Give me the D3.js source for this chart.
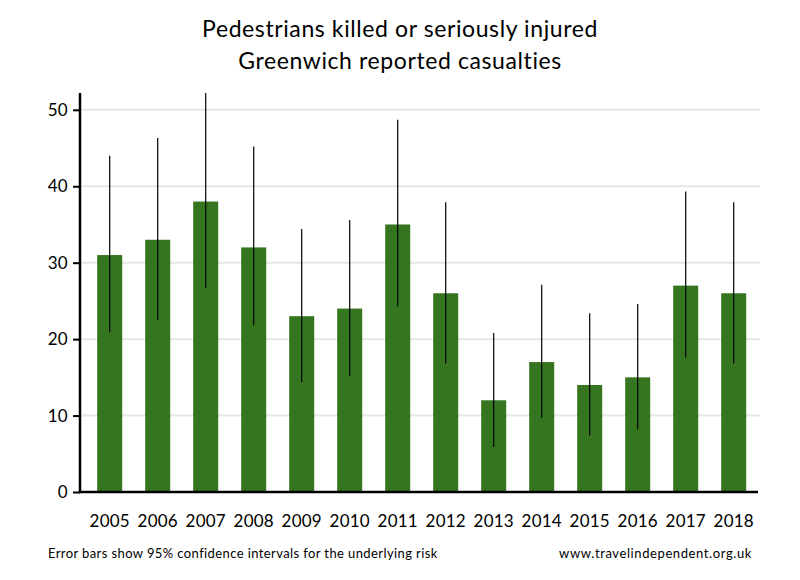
<!DOCTYPE html>
<html><head><meta charset="utf-8">
<script src="https://cdn.jsdelivr.net/npm/d3@7"></script>
<style>body{margin:0;background:#fff}svg{display:block}text{font-family:Lato,"Open Sans",sans-serif}</style>
</head><body>
<svg id="c" width="800" height="580"></svg>
<script>
const years = ["2005","2006","2007","2008","2009","2010","2011","2012","2013","2014","2015","2016","2017","2018"];
const casualties = [31,33,38,32,23,24,35,26,12,17,14,15,27,26];
const ciLow  = [20.9,22.5,26.7,21.8,14.4,15.2,24.3,16.8,5.9,9.7,7.4,8.2,17.6,16.8];
const ciHigh = [44.0,46.3,52.2,45.2,34.4,35.6,48.7,37.9,20.8,27.1,23.4,24.6,39.3,37.9];
const yTicks = [0,10,20,30,40,50];

const svg = d3.select("#c");
const x = d3.scaleBand().domain(years).range([85.7, 757.7]).padding(0);
const y = d3.scaleLinear().domain([0, 52.2]).range([492, 93]);
const barW = 25;

// grid
svg.append("g").selectAll("line").data(yTicks.filter(d=>d>0)).join("line")
  .attr("x1", 80).attr("x2", 760).attr("y1", d=>y(d)).attr("y2", d=>y(d))
  .attr("stroke", "#e6e6e6").attr("stroke-width", 2);

// bars
svg.append("g").selectAll("rect").data(years).join("rect")
  .attr("x", d=>x(d)+x.bandwidth()/2-barW/2).attr("width", barW)
  .attr("y", (d,i)=>y(casualties[i])).attr("height", (d,i)=>y(0)-y(casualties[i]))
  .attr("fill", "#367520");

// error bars
svg.append("g").selectAll("line").data(years).join("line")
  .attr("x1", d=>x(d)+x.bandwidth()/2).attr("x2", d=>x(d)+x.bandwidth()/2)
  .attr("y1", (d,i)=>y(ciLow[i])).attr("y2", (d,i)=>y(Math.min(ciHigh[i],52.2)))
  .attr("stroke", "#000").attr("stroke-width", 1.2);

// y axis
const ya = svg.append("g").attr("transform","translate(80,0)")
  .call(d3.axisLeft(y).tickValues(yTicks).tickSize(7).tickPadding(5).tickFormat(d3.format("d")));
ya.select(".domain").attr("stroke","#000").attr("stroke-width",2.5).attr("d","M0,"+y(0)+"V"+y(52.2));
ya.selectAll(".tick line").attr("stroke","#000").attr("stroke-width",2);
ya.selectAll(".tick text").attr("font-size",17).attr("fill","#000").attr("letter-spacing",0.3).attr("font-family","Lato,'Open Sans',sans-serif");

// x axis
const xa = svg.append("g").attr("transform","translate(0,"+y(0)+")")
  .call(d3.axisBottom(x).tickSize(0).tickPadding(23));
xa.select(".domain").attr("stroke","#000").attr("stroke-width",2.5).attr("d","M79,0H758");
xa.selectAll(".tick text").attr("font-size",17).attr("fill","#000").attr("letter-spacing",0.2).attr("font-family","Lato,'Open Sans',sans-serif");

// titles
svg.append("text").attr("x",400).attr("y",37).attr("text-anchor","middle").attr("font-size",23).attr("letter-spacing",0.6).text("Pedestrians killed or seriously injured");
svg.append("text").attr("x",400).attr("y",69).attr("text-anchor","middle").attr("font-size",23).attr("letter-spacing",0.6).text("Greenwich reported casualties");

// footers
svg.append("text").attr("x",48).attr("y",558).attr("font-size",13).attr("letter-spacing",0.4).text("Error bars show 95% confidence intervals for the underlying risk");
svg.append("text").attr("x",752).attr("y",558).attr("text-anchor","end").attr("font-size",13).attr("letter-spacing",0.6).text("www.travelindependent.org.uk");
</script>
</body></html>
